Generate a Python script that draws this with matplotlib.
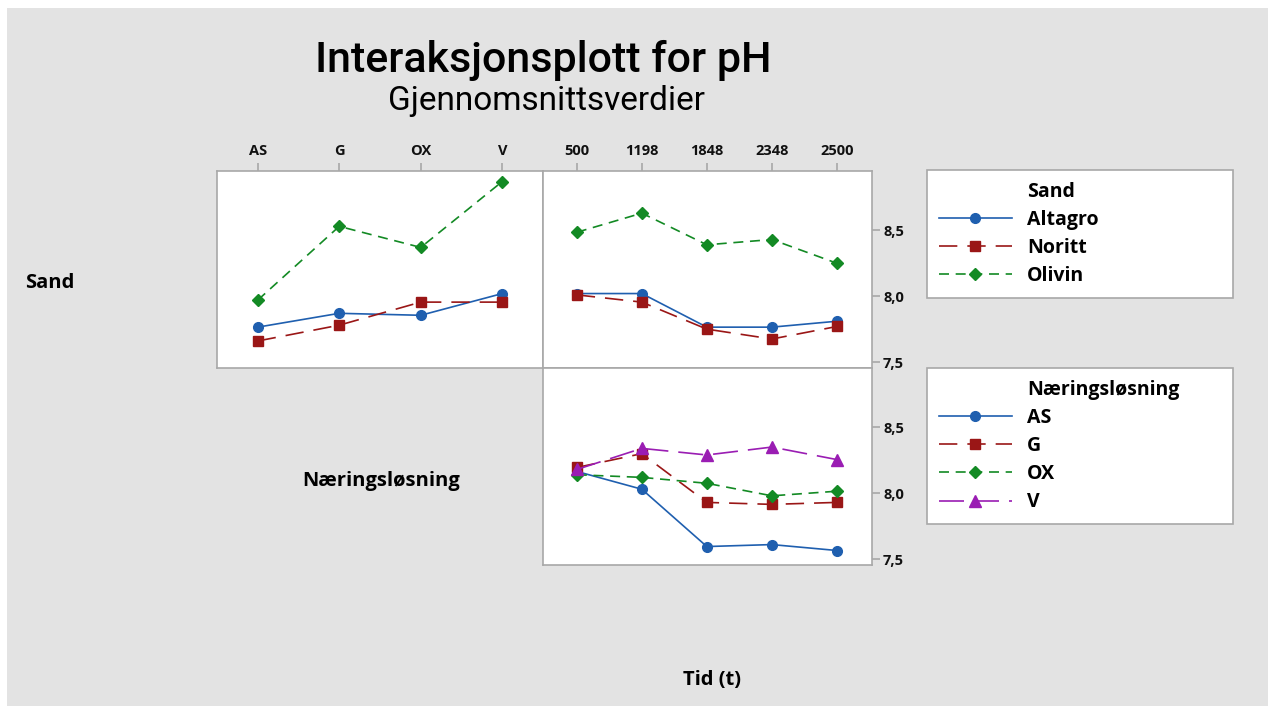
import matplotlib
matplotlib.use("Agg")
import matplotlib.pyplot as plt
from matplotlib.lines import Line2D
from matplotlib.patches import Rectangle

# Factor levels
naering = ["AS", "G", "OX", "V"]
tid = ["500", "1198", "1848", "2348", "2500"]
sand = ["Altagro", "Noritt", "Olivin"]

# Mean pH per sand type across nutrient solutions
sand_by_naering = {
    "Altagro": [7.765, 7.87, 7.855, 8.02],
    "Noritt": [7.66, 7.78, 7.955, 7.955],
    "Olivin": [7.97, 8.53, 8.37, 8.87],
}

# Mean pH per sand type across time
sand_by_tid = {
    "Altagro": [8.02, 8.02, 7.765, 7.765, 7.81],
    "Noritt": [8.01, 7.955, 7.75, 7.675, 7.77],
    "Olivin": [8.485, 8.63, 8.39, 8.43, 8.25],
}

# Mean pH per nutrient solution across time
naering_by_tid = {
    "AS": [8.165, 8.03, 7.595, 7.61, 7.565],
    "G": [8.195, 8.30, 7.93, 7.915, 7.93],
    "OX": [8.14, 8.12, 8.075, 7.98, 8.015],
    "V": [8.18, 8.34, 8.29, 8.35, 8.255],
}

y_ticks = [7.5, 8.0, 8.5]
y_ticklabels = ["7,5", "8,0", "8,5"]

BLUE = "#1F5FAF"
RED = "#9A1616"
GREEN = "#138A24"
PURPLE = "#9A1DB3"
SPINE = "#A8A8A8"
BG = "#E3E3E3"

styles = [
    dict(color=BLUE, marker="o", linestyle="-", markersize=7),
    dict(color=RED, marker="s", linestyle=(0, (11, 6)), markersize=7.5),
    dict(color=GREEN, marker="D", linestyle=(0, (6, 4)), markersize=6.5),
    dict(color=PURPLE, marker="^", linestyle=(0, (15, 6)), markersize=8),
]

FONT = ["Open Sans", "DejaVu Sans"]
TITLE_FONT = ["Roboto", "Open Sans", "DejaVu Sans"]
plt.rcParams["font.family"] = FONT

W, H = 1268, 706
fig = plt.figure(figsize=(W / 100, H / 100), dpi=100)
fig.patch.set_facecolor("white")
fig.add_artist(Rectangle((7 / W, 0), 1 - 7 / W, 1 - 8 / H, transform=fig.transFigure,
                         facecolor=BG, edgecolor="none", zorder=-10))


def fbox(x0, y0, x1, y1):
    return [x0 / W, 1 - y1 / H, (x1 - x0) / W, (y1 - y0) / H]


ax_tl = fig.add_axes(fbox(217, 171, 543, 368))
ax_tr = fig.add_axes(fbox(543, 171, 872, 368))
ax_br = fig.add_axes(fbox(543, 368, 872, 565))

YLIM = (7.455, 8.95)

for ax in (ax_tl, ax_tr, ax_br):
    ax.set_facecolor("white")
    for s in ax.spines.values():
        s.set_color(SPINE)
        s.set_linewidth(1.2)
    ax.set_ylim(*YLIM)
    ax.tick_params(colors=SPINE, labelcolor="#111111", length=6, width=1.2,
                   labelsize=10.5)
    ax.tick_params(axis="y", pad=2)

# Top-left panel: sand vs nutrient solution
for i, name in enumerate(sand):
    ax_tl.plot(range(len(naering)), sand_by_naering[name], linewidth=1.2, **styles[i])
ax_tl.set_xlim(-0.5, 3.5)
ax_tl.set_xticks(range(len(naering)))
ax_tl.set_xticklabels(naering, fontweight="bold")
ax_tl.xaxis.tick_top()
ax_tl.set_yticks([])

# Top-right panel: sand vs time
for i, name in enumerate(sand):
    ax_tr.plot(range(len(tid)), sand_by_tid[name], linewidth=1.2, **styles[i])
ax_tr.set_xlim(-0.52, 4.54)
ax_tr.set_xticks(range(len(tid)))
ax_tr.set_xticklabels(tid, fontweight="bold")
ax_tr.xaxis.tick_top()
ax_tr.yaxis.tick_right()
ax_tr.set_yticks(y_ticks)
ax_tr.set_yticklabels(y_ticklabels, fontweight="bold")

# Bottom-right panel: nutrient solution vs time
for i, name in enumerate(naering):
    ax_br.plot(range(len(tid)), naering_by_tid[name], linewidth=1.2, **styles[i])
ax_br.set_xlim(-0.52, 4.54)
ax_br.set_xticks([])
ax_br.yaxis.tick_right()
ax_br.set_yticks(y_ticks)
ax_br.set_yticklabels(y_ticklabels, fontweight="bold")

# Titles and factor labels
fig.text(543 / W, 1 - 60 / H, "Interaksjonsplott for pH", ha="center", va="center",
         fontsize=31, fontweight="medium", family=TITLE_FONT)
fig.text(546 / W, 1 - 101 / H, "Gjennomsnittsverdier", ha="center", va="center",
         fontsize=24, family=TITLE_FONT)
fig.text(25 / W, 1 - 283 / H, "Sand", ha="left", va="center", fontsize=14.5,
         fontweight="bold")
fig.text(381 / W, 1 - 481 / H, "Næringsløsning", ha="center", va="center",
         fontsize=14.5, fontweight="bold")
fig.text(712 / W, 1 - 680 / H, "Tid (t)", ha="center", va="center", fontsize=14.5,
         fontweight="bold")


def make_legend(title, names, style_list, box):
    blank = Line2D([], [], linestyle="none", marker=None)
    handles = [blank] + [Line2D([], [], linewidth=1.2, **st) for st in style_list]
    labels = [title] + names
    x0, y0, x1, y1 = box
    leg = fig.legend(handles, labels, loc="upper left",
                     bbox_to_anchor=(x0 / W, 1 - y0 / H, (x1 - x0) / W, 0),
                     mode="expand", frameon=True, fancybox=False, framealpha=1,
                     fontsize=14, handlelength=3.75, handletextpad=0.8,
                     labelspacing=0.42, borderpad=0.6, borderaxespad=0)
    fr = leg.get_frame()
    fr.set_edgecolor(SPINE)
    fr.set_linewidth(1.2)
    fr.set_facecolor("white")
    for t in leg.get_texts():
        t.set_fontweight("bold")
    return leg


make_legend("Sand", sand, styles[:3], (927, 170, 1233, 295))
make_legend("Næringsløsning", naering, styles, (927, 368, 1233, 518))

fig.savefig("out.png", dpi=100, facecolor=fig.get_facecolor())
